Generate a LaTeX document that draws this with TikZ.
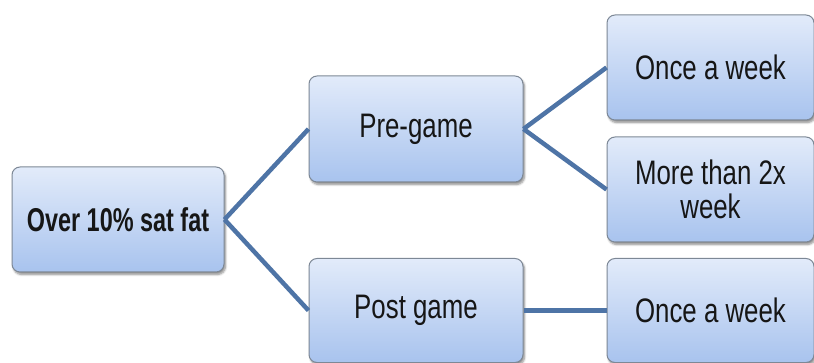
\documentclass[tikz,border=0pt]{standalone}
\usepackage{fontspec}
\setmainfont{Liberation Sans}
\usetikzlibrary{shadows.blur}
\definecolor{linkblue}{HTML}{4E74A6}
\definecolor{boxtop}{HTML}{E2EBFA}
\definecolor{boxbot}{HTML}{A8C3EE}
\definecolor{boxedge}{HTML}{7D8896}
\definecolor{txt}{HTML}{161616}
\tikzset{
  boxnode/.style={rectangle, rounded corners=8pt, draw=boxedge, line width=1pt,
    top color=boxtop, bottom color=boxbot, text=txt, align=center,
    inner sep=0pt,
    blur shadow={shadow xshift=1.5pt, shadow yshift=-2.5pt, shadow blur steps=6, shadow opacity=45}},
  link/.style={draw=linkblue, line width=4.5pt},
  lbl/.style={font=\fontsize{34}{36}\selectfont}
}
\newcommand{\sq}[1]{\scalebox{0.76}[1]{#1}}
\begin{document}
\begin{tikzpicture}[x=1pt,y=-1pt]
\useasboundingbox (0,0) rectangle (814,363);
\node[boxnode, minimum width=212pt, minimum height=105pt] (root) at (118,219.5)
  {\fontsize{33}{36}\selectfont\bfseries\scalebox{0.71}[1]{Over 10\% sat fat}};
\node[boxnode, minimum width=214pt, minimum height=106pt, lbl] (pre) at (416,129) {\sq{Pre-game}};
\node[boxnode, minimum width=214pt, minimum height=104pt, lbl] (post) at (416,310.5) {\sq{Post game}};
\node[boxnode, minimum width=207pt, minimum height=105pt, lbl] (o1) at (710.5,67.5) {\sq{Once a week}};
\node[boxnode, minimum width=207pt, minimum height=105pt, lbl] (m2) at (710.5,189.5)
  {\fontsize{34}{34}\selectfont\sq{More than 2x}\\[-2pt]\sq{week}};
\node[boxnode, minimum width=207pt, minimum height=104pt, lbl] (o2) at (710.5,310.5) {\sq{Once a week}};
\draw[link] (root.east) -- (pre.west);
\draw[link] (root.east) -- (post.west);
\draw[link] (pre.east) -- (o1.west);
\draw[link] (pre.east) -- (m2.west);
\draw[link] (post.east) -- (o2.west);
\end{tikzpicture}
\end{document}
